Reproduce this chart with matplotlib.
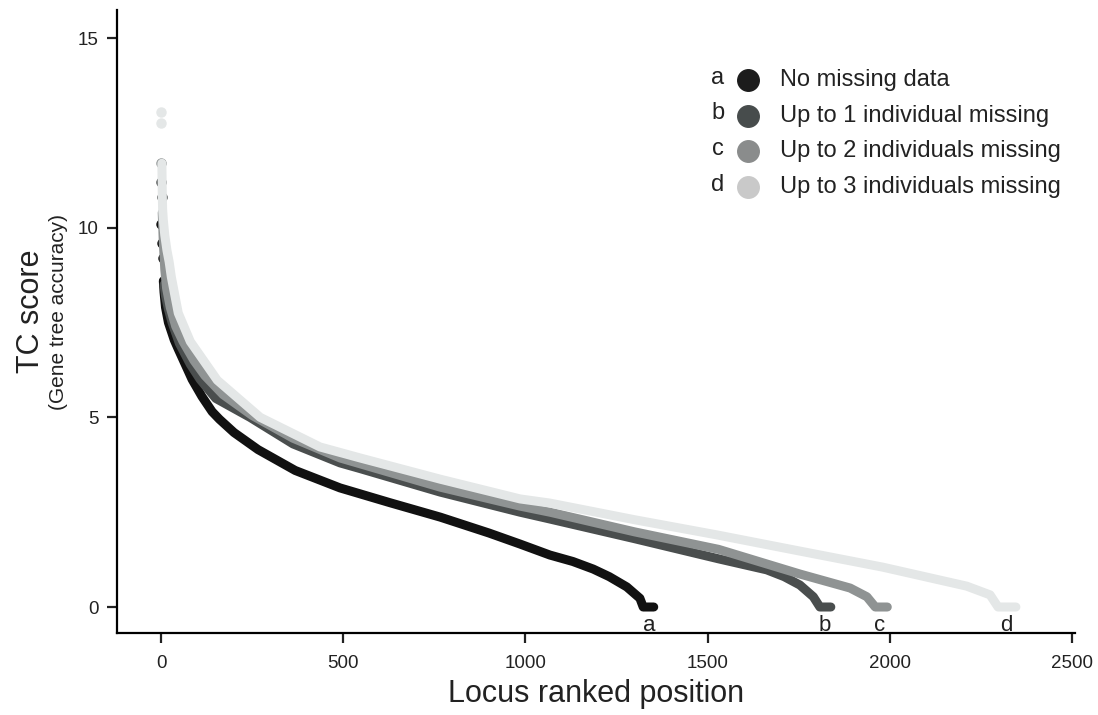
"""Ranked TC scores (gene tree accuracy) per locus for four missing-data thresholds."""

import matplotlib

matplotlib.use("Agg")
import matplotlib.pyplot as plt

plt.rcParams["font.family"] = ["Liberation Sans", "DejaVu Sans"]

# values: locus rank -> TC score
# a: no missing data
A_HEAD_RANK = [0, 2, 4]
A_HEAD_VAL = [10.1, 9.6, 9.2]
A_RANK = [6, 8, 12, 20, 36, 47, 85, 100, 112, 126, 140, 160, 200, 266, 368, 491,
          628, 766, 900, 985, 1067, 1130, 1186, 1230, 1278, 1314, 1323, 1352]
A_VAL = [8.6, 8.3, 7.9, 7.5, 7.04, 6.8, 6.0, 5.75, 5.55, 5.35, 5.15, 4.95, 4.6,
         4.15, 3.6, 3.14, 2.75, 2.37, 1.95, 1.66, 1.37, 1.2, 1.0, 0.8, 0.53, 0.23,
         0.0, 0.0]

# b: up to 1 individual missing
B_HEAD_RANK = [0, 2]
B_HEAD_VAL = [11.2, 10.8]
B_RANK = [8, 12, 20, 30, 50, 80, 107, 150, 244, 362, 491, 546, 766, 985, 1067, 1300,
          1530, 1662, 1710, 1753, 1790, 1808, 1838]
B_VAL = [8.5, 8.2, 7.85, 7.5, 6.95, 6.4, 6.0, 5.5, 5.0, 4.3, 3.8, 3.65, 3.03, 2.5,
         2.32, 1.8, 1.27, 0.98, 0.8, 0.58, 0.27, 0.0, 0.0]

# c: up to 2 individuals missing
C_HEAD_RANK = [0]
C_HEAD_VAL = [11.7]
C_RANK = [3, 6, 10, 15, 25, 40, 60, 90, 120, 170, 250, 362, 491, 766, 985, 1067,
          1300, 1530, 1753, 1891, 1937, 1960, 1993]
C_VAL = [10.4, 9.6, 8.9, 8.4, 7.9, 7.4, 7.0, 6.5, 6.1, 5.6, 5.05, 4.45, 3.93, 3.16,
         2.66, 2.5, 1.98, 1.52, 0.87, 0.5, 0.27, 0.0, 0.0]

# d: up to 3 individuals missing
D_HEAD_RANK = [0, 1]
D_HEAD_VAL = [13.05, 12.75]
D_RANK = [2, 3, 4, 6, 10, 16, 22, 28, 47, 80, 154, 272, 436, 546, 766, 985, 1067,
          1300, 1526, 1750, 1981, 2211, 2275, 2297, 2346]
D_VAL = [11.7, 11.0, 10.5, 10.2, 9.8, 9.4, 9.1, 8.7, 7.75, 7.0, 5.98, 5.0, 4.22,
         3.93, 3.37, 2.85, 2.74, 2.3, 1.9, 1.48, 1.05, 0.55, 0.32, 0.0, 0.0]

LETTERS = ["a", "b", "c", "d"]
LABELS = [
    "No missing data",
    "Up to 1 individual missing",
    "Up to 2 individuals missing",
    "Up to 3 individuals missing",
]
LINE_COLORS = ["#111111", "#4a4e4e", "#8f9393", "#e4e7e7"]
KEY_COLORS = ["#1c1c1c", "#474c4c", "#8a8c8c", "#c9c9c9"]

series = [
    (A_HEAD_RANK, A_HEAD_VAL, A_RANK, A_VAL),
    (B_HEAD_RANK, B_HEAD_VAL, B_RANK, B_VAL),
    (C_HEAD_RANK, C_HEAD_VAL, C_RANK, C_VAL),
    (D_HEAD_RANK, D_HEAD_VAL, D_RANK, D_VAL),
]
TXT = "#222222"

fig = plt.figure(figsize=(10.98, 7.15), dpi=100)
ax = fig.add_axes([0.1066, 0.1147, 0.8724, 0.8713])

for (hr, hv, r, v), col, let in zip(series, LINE_COLORS, LETTERS):
    ax.plot(r, v, color=col, lw=6.5, solid_capstyle="round",
            solid_joinstyle="round", zorder=2)
    ax.plot(hr, hv, "o", color=col, ms=6.5, mec=col, zorder=2)
    # letter tag under the zero plateau of each curve
    ax.text((r[-3] + r[-1]) / 2 + 8, -0.22, let, ha="center", va="top",
            fontsize=16, color=TXT)

# key
for i, (let, lab, col) in enumerate(zip(LETTERS, LABELS, KEY_COLORS)):
    y = 0.8876 - i * 0.0573
    ax.text(0.627, y + 0.004, let, transform=ax.transAxes, ha="center",
            va="center", fontsize=17, color=TXT)
    ax.plot([0.6587], [y], "o", transform=ax.transAxes, ms=15.5, color=col,
            clip_on=False)
    ax.text(0.692, y, lab, transform=ax.transAxes, ha="left", va="center",
            fontsize=17, color=TXT)

ax.set_xlim(-121, 2508)
ax.set_ylim(-0.685, 15.74)
ax.set_xticks([0, 500, 1000, 1500, 2000, 2500])
ax.set_yticks([0, 5, 10, 15])
for side in ("top", "right"):
    ax.spines[side].set_visible(False)
for side in ("left", "bottom"):
    ax.spines[side].set_linewidth(1.6)
ax.tick_params(direction="out", length=7, width=1.6, labelsize=13.5,
               colors=TXT, pad=6)
ax.tick_params(axis="x", pad=9)

ax.set_xlabel("Locus ranked position", fontsize=22, color=TXT, labelpad=5)
fig.text(0.028, 0.564, "TC score", rotation=90, ha="center", va="center",
         fontsize=22, color=TXT)
fig.text(0.053, 0.564, "(Gene tree accuracy)", rotation=90, ha="center",
         va="center", fontsize=15, color=TXT)

fig.savefig("out.png", dpi=100)
